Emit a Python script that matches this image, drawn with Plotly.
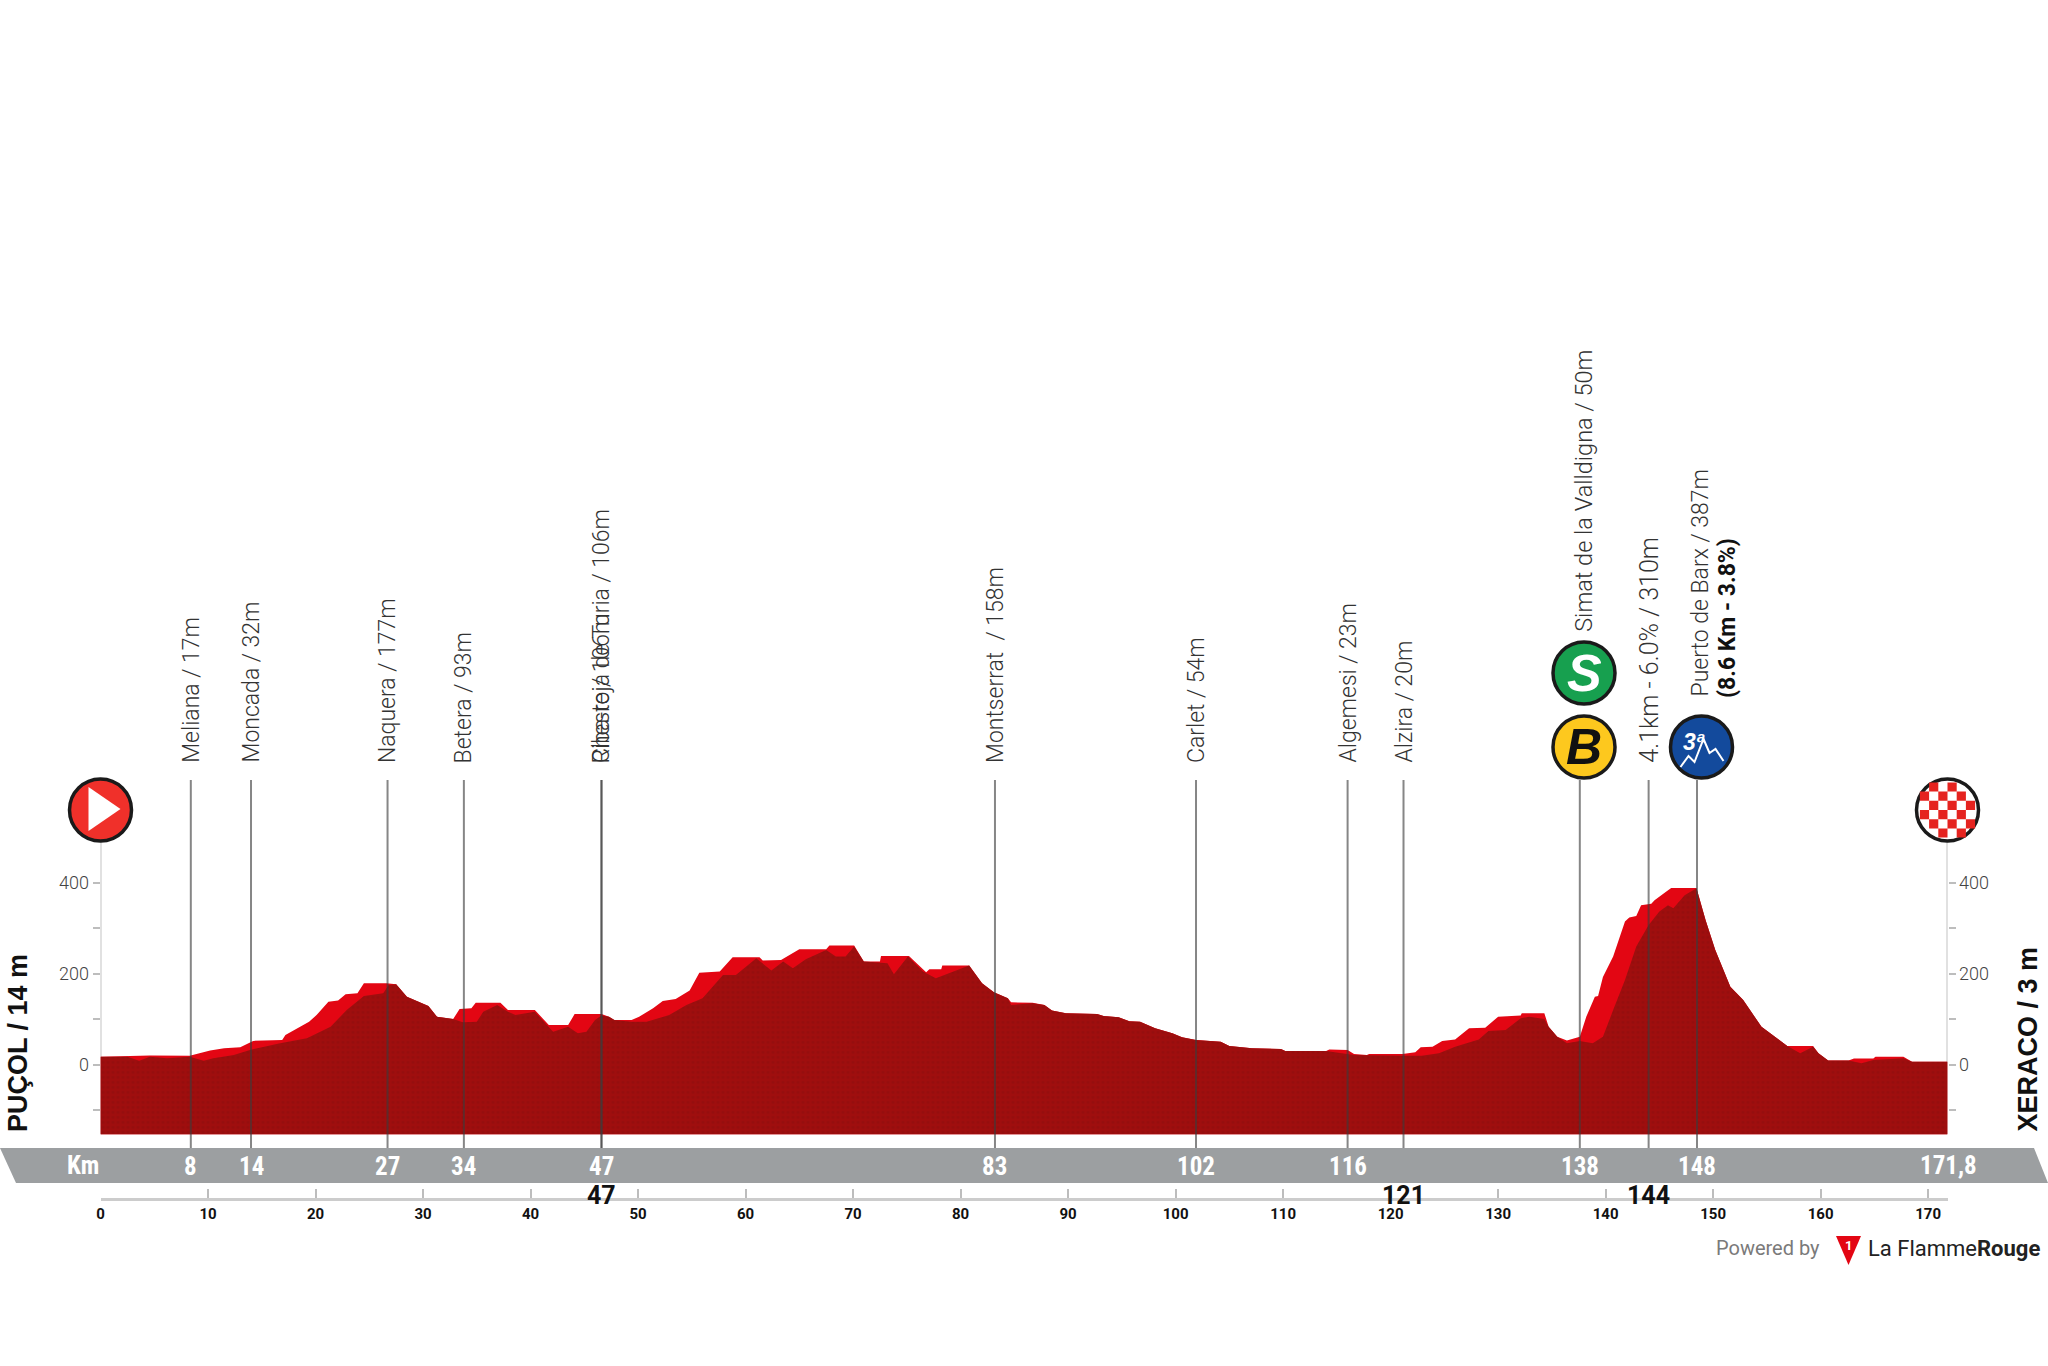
import plotly.graph_objects as go

# ---------- data ----------
road_km = [0,2.5,4.6,8.3,9.3,10.2,11.5,13.0,14.2,16.9,17.2,18.4,19.4,20.1,21.2,22.1,22.8,23.9,24.5,26.6,27.5,28.5,29.3,30.5,31.3,32.8,33.4,34.5,34.9,37.2,37.9,40.4,41.7,43.5,44.1,46.6,47.3,47.8,49.4,50.1,51.4,52.3,53.5,54.8,55.7,57.6,58.8,61.3,61.6,63.3,65.0,67.5,67.8,70.1,71.0,72.5,72.6,75.2,76.8,77.1,78.2,78.3,80.8,82.0,83.1,84.4,84.7,86.7,87.8,88.5,89.8,92.7,93.3,94.7,95.7,96.7,98.1,99.7,100.6,101.9,104.2,105.0,107.1,109.8,110.2,114.0,114.3,116.0,116.6,117.8,118.0,121.1,122.3,122.8,123.9,124.8,126.0,127.3,128.8,130.0,132.1,132.2,134.3,134.7,135.5,136.4,137.6,138.2,139.0,139.3,139.75,140.7,141.8,142.2,142.85,143.3,144.25,144.55,145.65,146.1,148.45,149.3,150.2,151.6,152.8,154.5,156.9,159.3,159.8,160.7,162.6,163.1,164.9,165.1,167.7,168.5,171.8]
road_m = [17,19,20,19,26,31,36,38,52,54,65,80,94,109,138,141,155,157,179,179,177,149,141,129,105,100,122,124,136,136,120,120,87,87,111,111,105,98,98,105,124,140,144,163,202,205,236,236,229,230,254,254,262,262,227,227,239,239,203,210,210,218,218,179,159,146,137,136,131,119,113,111,107,104,95,94,80,69,60,54,50,41,36,34,30,30,33,32,23,21,23,23,27,38,39,52,55,80,81,105,108,113,113,83,61,53,61,105,149,151,193,238,315,324,327,351,354,362,381,389,389,318,252,171,142,83,41,41,25,9,9,13,13,17,17,6,6]

shade_km = [0,2.5,3.6,4.6,6.2,8.3,9.6,10.5,12.4,13.9,16.7,19.2,21.4,22.9,24.5,26.3,26.8,27.5,28.5,29.3,30.5,31.3,32.8,33.7,35.0,35.6,36.9,37.9,38.6,40.4,42.1,43.5,44.4,45.2,46.0,46.6,47.3,47.8,49.4,50.8,52.9,54.5,56.0,57.9,59.1,61.0,62.4,63.5,64.4,65.6,67.5,68.4,69.3,70.1,71.0,73.2,73.8,75.1,76.5,77.7,79.6,80.8,82.0,83.1,84.4,84.7,86.7,87.8,88.5,89.8,92.7,93.3,94.7,95.7,96.7,98.1,99.7,100.6,101.9,104.2,105.0,107.1,109.8,110.2,114.0,116.0,116.6,121.1,122.9,124.5,126.0,128.2,129.1,130.7,132.1,132.9,134.3,134.7,135.5,136.4,137.6,138.8,139.75,140.7,141.8,142.85,144.0,145.0,145.8,146.3,147.35,148.45,149.3,150.2,151.6,152.8,154.5,156.9,158.1,159.3,159.8,160.7,162.6,163.8,164.9,167.7,168.5,171.8]
shade_m = [17,17,8,17,14,17,8,14,21,32,47,58,83,120,151,157,175,177,149,141,129,105,100,93,94,116,131,116,109,116,72,83,69,72,98,108,105,98,94,94,109,131,146,197,197,234,207,227,212,232,252,238,238,260,227,223,199,238,205,190,208,218,179,159,146,131,135,131,119,113,111,107,104,95,94,80,69,60,54,50,41,36,34,30,30,23,21,19,19,25,39,55,74,76,102,105,100,83,61,47,52,47,61,120,186,260,307,337,351,344,373,388,318,252,171,142,83,41,25,39,25,9,9,3,10,14,6,6]

floor_m = -154
elev_ticks = [-100,0,100,200,300,400]
elev_labels = ["","0","","200","","400"]
km_ticks = [0,10,20,30,40,50,60,70,80,90,100,110,120,130,140,150,160,170,171.8]
km_labels = ["0","10","20","30","40","50","60","70","80","90","100","110","120","130","140","150","160","170",""]

place_km = [8.4,14.0,26.7,33.8,46.6,46.6,83.2,101.9,116.0,121.2,137.6,144.0,148.5]
place_names = ["Meliana / 17m","Moncada / 32m","Naquera / 177m","Betera / 93m","Riba-roja de Turia / 106m","Cheste / 106m",
               "Montserrat  / 158m","Carlet / 54m","Algemesi / 23m","Alzira / 20m","Simat de la Valldigna / 50m",
               "4.1km - 6.0% / 310m","Puerto de Barx / 387m"]
band_labels = ["8","14","27","34","47","","83","102","116","","138","","148"]
low_labels = ["","","","","","47","","","","121","","144",""]

W, H = 2048, 1366
X0, X1 = 100.5, 1947.5      # pixel span of km axis
Y_ZERO, PX_PER_M = 1064.5, 0.454
Y_FLOOR = Y_ZERO - floor_m * PX_PER_M
END_KM = 171.8
px = lambda v: v / W
py = lambda v: 1 - v / H
m_at = lambda pix: (Y_ZERO - pix) / PX_PER_M
km_at = lambda pix: (pix - X0) / (X1 - X0) * END_KM

fig = go.Figure()
close = lambda xs, ys: (xs + [xs[-1], xs[0]], ys + [floor_m, floor_m])
x, y = close(road_km, road_m)
fig.add_trace(go.Scatter(x=x, y=y, fill="toself", fillcolor="#e30613", mode="lines", line=dict(width=0), hoverinfo="skip"))
x, y = close(shade_km, shade_m)
fig.add_trace(go.Scatter(x=x, y=y, fill="toself", mode="lines", line=dict(width=0), hoverinfo="skip",
                         fillpattern=dict(shape=".", bgcolor="#9f0e0e", fgcolor="#8a0b0b", size=5, solidity=0.25)))

shapes, ann = [], []
LINE = dict(color="rgba(60,60,60,0.62)", width=2)
for k in place_km:
    shapes.append(dict(type="line", xref="x", yref="paper", x0=k, x1=k, y0=py(1148), y1=py(780), line=LINE, layer="above"))

# grey distance band
shapes.append(dict(type="path", xref="paper", yref="paper", layer="above", fillcolor="#9c9fa1", line=dict(width=0),
    path=f"M 0 {py(1148)} L {px(2034)} {py(1148)} L {px(2048)} {py(1183)} L {px(16)} {py(1183)} Z"))
# altitude axis lines
for k in (0, END_KM):
    shapes.append(dict(type="line", xref="x", yref="y", x0=k, x1=k, y0=floor_m, y1=m_at(840), line=dict(color="#c4c4c4", width=2), layer="below"))

OFFSETS = {10: 4, 12: 3}
SIZES = {10: 23.5, 11: 25}
for i, (k, n) in enumerate(zip(place_km, place_names)):
    base = 764
    if i == 10: base = 633
    if i == 12: base = 698
    ann.append(dict(x=k + OFFSETS.get(i, 0) * 0.0929, y=m_at(base), xref="x", yref="y", text=n, textangle=-90,
                    showarrow=False, xanchor="center", yanchor="bottom", borderpad=0,
                    font=dict(family="Roboto, Liberation Sans", size=SIZES.get(i, 23), color="#333333", weight=300)))
ann.append(dict(x=km_at(1727), y=m_at(700), xref="x", yref="y", text="<b>(8.6 Km - 3.8%)</b>", textangle=-90, showarrow=False,
                xanchor="center", yanchor="bottom", font=dict(family="Liberation Sans Narrow, Roboto", size=23, color="#111111")))

BAND = dict(family="Liberation Sans Narrow, Roboto Condensed, Roboto", size=25, color="#ffffff", weight=700)
for k, t in zip(place_km, band_labels):
    if t:
        ann.append(dict(x=k, y=py(1166), xref="x", yref="paper", text=t, showarrow=False, font=BAND, yanchor="middle"))
ann.append(dict(x=px(83), y=py(1165), xref="paper", yref="paper", text="Km", showarrow=False, font=BAND, xanchor="center", yanchor="middle"))
ann.append(dict(x=px(1948), y=py(1165), xref="paper", yref="paper", text="171,8", showarrow=False, font=BAND, xanchor="center", yanchor="middle"))
LOW = dict(family="Liberation Sans Narrow, Roboto", size=25, color="#111111", weight=700)
for k, t in zip(place_km, low_labels):
    if t:
        ann.append(dict(x=k, y=py(1195), xref="x", yref="paper", text=t, showarrow=False, font=LOW, yanchor="middle"))

SIDE = dict(family="Liberation Sans", size=27, color="#111111")
ann.append(dict(x=px(18), y=py(1134), xref="paper", yref="paper", text="<b>PUÇOL / 14 m</b>", textangle=-90, showarrow=False, font=SIDE, xanchor="center", yanchor="bottom"))
ann.append(dict(x=px(2027), y=py(1134), xref="paper", yref="paper", text="<b>XERACO / 3 m</b>", textangle=-90, showarrow=False, font=SIDE, xanchor="center", yanchor="bottom"))

# footer credit
ann.append(dict(x=px(1822), y=py(1248), xref="paper", yref="paper", text="Powered by", showarrow=False, xanchor="right", yanchor="middle",
                font=dict(family="Roboto", size=20, color="#7a7a7a")))
ann.append(dict(x=px(1866), y=py(1248), xref="paper", yref="paper", text="La Flamme<b>Rouge</b>", showarrow=False, xanchor="left", yanchor="middle",
                font=dict(family="Roboto", size=22, color="#222222")))
shapes.append(dict(type="path", xref="paper", yref="paper", layer="above", fillcolor="#e30613", line=dict(width=0),
    path=f"M {px(1836)} {py(1236)} L {px(1861)} {py(1236)} L {px(1848.5)} {py(1265)} Z"))
ann.append(dict(x=px(1848.5), y=py(1245), xref="paper", yref="paper", text="<b>1</b>", showarrow=False, xanchor="center", yanchor="middle",
                font=dict(family="Roboto", size=13, color="#ffffff")))

# badges
SIZE = 62
badges = [(0, m_at(810), "#f0302a"), (END_KM, m_at(810), "#ffffff"),
          (km_at(1584), m_at(673), "#17a04f"), (km_at(1584), m_at(747), "#fdc81e"), (km_at(1701.5), m_at(747), "#134a9c")]
fig.add_trace(go.Scatter(x=[b[0] for b in badges], y=[b[1] for b in badges], mode="markers", hoverinfo="skip", cliponaxis=False,
                         marker=dict(size=SIZE, color=[b[2] for b in badges], line=dict(color="#1a1a1a", width=3.5))))
# play triangle (anchored in paper space so it is not clipped at the km axis end)
shapes.append(dict(type="path", xref="paper", yref="paper", xsizemode="pixel", ysizemode="pixel", xanchor=px(X0), yanchor=py(810),
                   path="M -12 -21 L -12 23 L 20 1 Z", fillcolor="#ffffff", line=dict(width=0), layer="above"))
# checker
cell = 9.2
path = ""
for r in range(-4, 4):
    for c in range(-4, 4):
        cx, cy = (c + .5) * cell, (r + .5) * cell
        if (r + c) % 2 == 0 and cx * cx + cy * cy < 29 ** 2:
            path += f"M {cx-cell/2:.1f} {cy-cell/2:.1f} L {cx+cell/2:.1f} {cy-cell/2:.1f} L {cx+cell/2:.1f} {cy+cell/2:.1f} L {cx-cell/2:.1f} {cy+cell/2:.1f} Z "
shapes.append(dict(type="path", xref="paper", yref="paper", xsizemode="pixel", ysizemode="pixel", xanchor=px(X1), yanchor=py(810),
                   path=path, fillcolor="#e5231f", line=dict(width=0), layer="above"))
# mountain zigzag
shapes.append(dict(type="path", xref="x", yref="y", xsizemode="pixel", ysizemode="pixel", xanchor=km_at(1701.5), yanchor=m_at(747),
                   path="M -21 -20 L -13 -9 L -7 -15 L 2 8 L 8 -6 L 14 -2 L 22 -14", line=dict(color="#ffffff", width=2), layer="above"))
ann.append(dict(x=km_at(1694), y=m_at(742), xref="x", yref="y", text="<b><i>3ª</i></b>", showarrow=False,
                font=dict(family="Liberation Sans", size=23, color="#ffffff")))
ann.append(dict(x=km_at(1584), y=m_at(673), xref="x", yref="y", text="<b><i>S</i></b>", showarrow=False,
                font=dict(family="Liberation Sans", size=52, color="#ffffff")))
ann.append(dict(x=km_at(1584), y=m_at(747), xref="x", yref="y", text="<b><i>B</i></b>", showarrow=False,
                font=dict(family="Liberation Sans", size=50, color="#111111")))

# keep a trace on the right-hand altitude axis
fig.add_trace(go.Scatter(x=[END_KM], y=[0], yaxis="y2", mode="markers", marker=dict(size=1, opacity=0), hoverinfo="skip"))

yrange = [floor_m, m_at(0)]
ycommon = dict(range=yrange, domain=[py(Y_FLOOR), 1], tickvals=elev_ticks, ticktext=elev_labels, ticks="outside", ticklen=7,
               tickcolor="#bdbdbd", tickwidth=1.5, showgrid=False, zeroline=False, showline=False,
               tickfont=dict(family="Roboto", size=18, color="#444444", weight=300))
fig.update_layout(
    width=W, height=H, margin=dict(l=0, r=0, t=0, b=0, autoexpand=False), showlegend=False,
    paper_bgcolor="white", plot_bgcolor="white", shapes=shapes, annotations=ann,
    xaxis=dict(range=[0, END_KM], domain=[px(X0), px(X1)], anchor="free", position=py(1199), tickvals=km_ticks, ticktext=km_labels,
               ticks="inside", ticklen=9, tickcolor="#bdbdbd", tickwidth=2, showgrid=False, zeroline=False, showline=True,
               linecolor="#cccccc", linewidth=3, tickfont=dict(family="Liberation Sans Narrow, Roboto", size=15, color="#111111", weight=700)),
    yaxis=dict(**ycommon, anchor="x", side="left"),
    yaxis2=dict(**ycommon, anchor="x", side="right", overlaying="y"),
)
fig.write_html("out.html", config=dict(displayModeBar=False), post_script="document.body.style.margin='0';")
